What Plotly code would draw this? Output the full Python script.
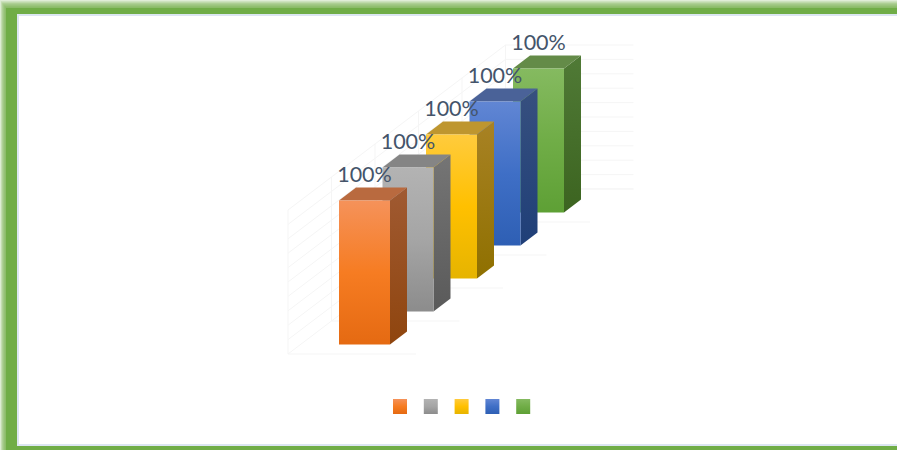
import plotly.graph_objects as go

# ---- data ----
series = ["Series 1", "Series 2", "Series 3", "Series 4", "Series 5"]
values = [100, 100, 100, 100, 100]
labels = ["100%", "100%", "100%", "100%", "100%"]
grid_ticks = [0, 10, 20, 30, 40, 50, 60, 70, 80, 90, 100]
front_colors = [
    ["#F5925A", "#F67C22", "#E56A12"],
    ["#B3B3B3", "#A5A5A5", "#8C8C8C"],
    ["#FFCB3D", "#FFC000", "#E6B400"],
    ["#6186D4", "#3F6FC6", "#2E5FB4"],
    ["#85BA60", "#70AD47", "#5EA035"],
]
side_colors = [
    ["#A05A32", "#8F450E"],
    ["#757575", "#5A5A5A"],
    ["#A88224", "#8F7000"],
    ["#37507F", "#1F3F78"],
    ["#507A36", "#3C6420"],
]
top_colors = ["#B96A3F", "#858585", "#BE962F", "#4A6298", "#648B48"]
legend_slots = [0, 1, 2, 3, 4]

# ---- oblique projection (depth index, width fraction, value) -> chart plane ----
STEP_X, STEP_Y = 43.5, 33.0
UNIT = 1.44
BAR_W, SIDE_X, SIDE_Y = 51.0, 17.0, 13.0
BAR_X0, BAR_BASE = 339.0, 344.5
WALL_X0, WALL_BASE = 288.0, 354.0
FLOOR_W = 128.0
LAB_OFFSET = 16.8


def bx(d):
    return BAR_X0 + STEP_X * d


def by(d, v):
    return BAR_BASE - STEP_Y * d - UNIT * v


fig = go.Figure()
GRID = "#F5F5F5"


def line(xs, ys):
    fig.add_trace(go.Scatter(x=xs, y=ys, mode="lines", line=dict(color=GRID, width=1),
                             hoverinfo="skip", showlegend=False))


n = len(series)
vmax = grid_ticks[-1]
# left wall: diagonals + verticals
for t in grid_ticks:
    line([WALL_X0, WALL_X0 + STEP_X * n], [WALL_BASE - UNIT * t, WALL_BASE - STEP_Y * n - UNIT * t])
for d in range(n + 1):
    xw = WALL_X0 + STEP_X * d
    yw = WALL_BASE - STEP_Y * d
    line([xw, xw], [yw, yw - UNIT * vmax])
    # floor line
    line([xw, xw + FLOOR_W], [yw, yw])
# back wall
xb = WALL_X0 + STEP_X * n
yb = WALL_BASE - STEP_Y * n
for t in grid_ticks:
    line([xb, xb + FLOOR_W], [yb - UNIT * t, yb - UNIT * t])


def grad(colors):
    # the value axis runs downward on the page, so the stops go bottom-first
    rev = colors[::-1]
    k = len(rev) - 1
    return dict(type="vertical", colorscale=[[i / k, c] for i, c in enumerate(rev)])


def face(xs, ys, fill=None, gradient=None, name=None):
    kw = dict(x=xs, y=ys, mode="lines", line=dict(width=0), fill="toself",
              hoverinfo="skip", showlegend=False, name=name)
    if gradient:
        kw["fillgradient"] = gradient
    else:
        kw["fillcolor"] = fill
    fig.add_trace(go.Scatter(**kw))


# bars, back to front
for d in range(n - 1, -1, -1):
    v = values[d]
    x0, x1 = bx(d), bx(d) + BAR_W
    yt, yf = by(d, v), by(d, 0)
    face([x1, x1 + SIDE_X, x1 + SIDE_X, x1, x1], [yt, yt - SIDE_Y, yf - SIDE_Y, yf, yt],
         gradient=grad(side_colors[d]), name=series[d])
    face([x0, x0 + SIDE_X, x1 + SIDE_X, x1, x0], [yt, yt - SIDE_Y, yt - SIDE_Y, yt, yt],
         fill=top_colors[d], name=series[d])
    face([x0, x1, x1, x0, x0], [yt, yt, yf, yf, yt],
         gradient=grad(front_colors[d]), name=series[d])

# data labels
for d in range(n):
    fig.add_trace(go.Scatter(
        x=[bx(d) + BAR_W / 2], y=[by(d, values[d] + LAB_OFFSET)],
        mode="text", text=[labels[d]], textposition="middle center",
        textfont=dict(family="Lato", size=21.5, color="#44546A"),
        hoverinfo="skip", showlegend=False))

# legend keys (the source shows swatches only)
LEG_X0, LEG_STEP, LEG_SIZE, LEG_Y0 = 393.0, 30.8, 14.0, 399.0
for i in legend_slots:
    lx = LEG_X0 + LEG_STEP * i
    face([lx, lx + LEG_SIZE, lx + LEG_SIZE, lx, lx],
         [LEG_Y0, LEG_Y0, LEG_Y0 + LEG_SIZE + 1, LEG_Y0 + LEG_SIZE + 1, LEG_Y0],
         gradient=grad(front_colors[i]), name=series[i])

# ---- frame ----
shapes = []
FR = "#70AD47"
shapes.append(dict(type="rect", xref="x", yref="y", x0=6, y0=8, x1=905, y1=455,
                   fillcolor=FR, line=dict(width=0), layer="below"))
for i in range(7):
    shapes.append(dict(type="rect", xref="x", yref="y", x0=i * 0.9, y0=i * 1.2, x1=905, y1=455,
                       fillcolor=FR, opacity=0.22, line=dict(width=0), layer="below"))
shapes.append(dict(type="rect", xref="x", yref="y", x0=17, y0=14, x1=905, y1=446,
                   fillcolor="#DCE6F2", line=dict(width=0), layer="below"))
shapes.append(dict(type="rect", xref="x", yref="y", x0=19, y0=16, x1=905, y1=444,
                   fillcolor="#FFFFFF", line=dict(width=0), layer="below"))

fig.update_layout(
    width=897, height=450, margin=dict(l=0, r=0, t=0, b=0),
    paper_bgcolor="#FFFFFF", plot_bgcolor="rgba(0,0,0,0)",
    showlegend=False, shapes=shapes,
    xaxis=dict(range=[0, 897], visible=False, fixedrange=True),
    yaxis=dict(range=[450, 0], visible=False, fixedrange=True),
)
fig.write_html("out.html", config={"displayModeBar": False},
               post_script="document.body.style.margin='0';document.body.style.overflow='hidden';")
